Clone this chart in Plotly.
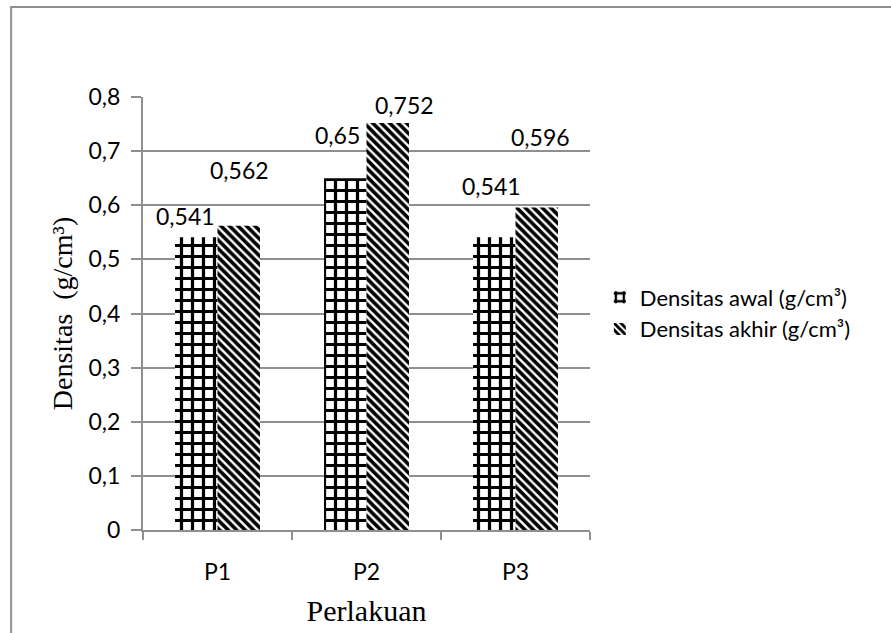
import plotly.graph_objects as go

# Density measurements per treatment
categories = ["P1", "P2", "P3"]
densitas_awal = [0.541, 0.65, 0.541]
densitas_akhir = [0.562, 0.752, 0.596]
series_names = ["Densitas awal (g/cm³)", "Densitas akhir (g/cm³)"]
y_ticks = [0, 0.1, 0.2, 0.3, 0.4, 0.5, 0.6, 0.7, 0.8]


def comma(v):
    s = f"{v:g}"
    return s.replace(".", ",")


LABEL_FONT = dict(family="Lato, Open Sans, sans-serif", size=23, color="#000000")
SERIF = "Liberation Serif, Times New Roman, serif"
GRAY = "#8f8f8f"

fig = go.Figure()
fig.add_trace(go.Bar(
    x=categories, y=densitas_awal, name=series_names[0],
    marker=dict(color="white", line=dict(width=0),
                pattern=dict(shape="+", fgcolor="#000000", bgcolor="white",
                             fgopacity=1, fillmode="replace",
                             size=11, solidity=0.5)),
))
fig.add_trace(go.Bar(
    x=categories, y=densitas_akhir, name=series_names[1],
    marker=dict(color="white", line=dict(width=0),
                pattern=dict(shape="\\", fgcolor="#000000", bgcolor="white",
                             fgopacity=1, fillmode="replace",
                             size=6, solidity=0.6)),
))

# value labels, nudged away from the bar tops
bar_half = 21.5
awal_nudge = [(-11, 21), (-8, 43), (-3, 51)]
akhir_nudge = [(0, 56), (16, 18), (3, 70)]
annotations = []
for i, cat in enumerate(categories):
    for vals, nudge, side in ((densitas_awal, awal_nudge, -1), (densitas_akhir, akhir_nudge, 1)):
        dx, dy = nudge[i]
        annotations.append(dict(
            x=cat, y=vals[i], xref="x", yref="y", text=comma(vals[i]),
            showarrow=False, xshift=side * bar_half + dx, yshift=dy,
            font=LABEL_FONT, xanchor="center", yanchor="middle",
        ))

fig.update_layout(
    width=891, height=633,
    margin=dict(l=143, r=301, t=97, b=103),
    paper_bgcolor="white", plot_bgcolor="white",
    barmode="group", bargap=0.43, bargroupgap=0,
    font=LABEL_FONT,
    showlegend=True,
    legend=dict(x=1.022, y=0.5, xanchor="left", yanchor="middle",
                font=dict(LABEL_FONT, size=22), itemwidth=30, tracegroupgap=0,
                bgcolor="rgba(0,0,0,0)"),
    annotations=annotations,
    shapes=[dict(type="rect", xref="paper", yref="paper",
                 x0=-0.295, x1=1.9, y0=-0.6, y1=1.208,
                 line=dict(color=GRAY, width=2), fillcolor="rgba(0,0,0,0)",
                 layer="below")],
)

fig.update_xaxes(
    showline=True, linecolor=GRAY, linewidth=2,
    ticks="outside", tickson="boundaries", ticklen=8, tickcolor=GRAY, tickwidth=2,
    showgrid=False, tickfont=LABEL_FONT, ticklabelstandoff=20,
    title=dict(text="Perlakuan", standoff=16,
               font=dict(family=SERIF, size=30, color="#000000")),
)
fig.update_yaxes(
    range=[0, 0.8], tickvals=y_ticks, ticktext=[comma(v) for v in y_ticks],
    showline=True, linecolor=GRAY, linewidth=2,
    ticks="outside", ticklen=10, tickcolor=GRAY, tickwidth=2,
    showgrid=True, gridcolor=GRAY, gridwidth=2, zeroline=False,
    tickfont=LABEL_FONT, ticklabelstandoff=6,
    title=dict(text="Densitas  (g/cm³)", standoff=8,
               font=dict(family=SERIF, size=28, color="#000000")),
)

fig.write_html("out.html")
